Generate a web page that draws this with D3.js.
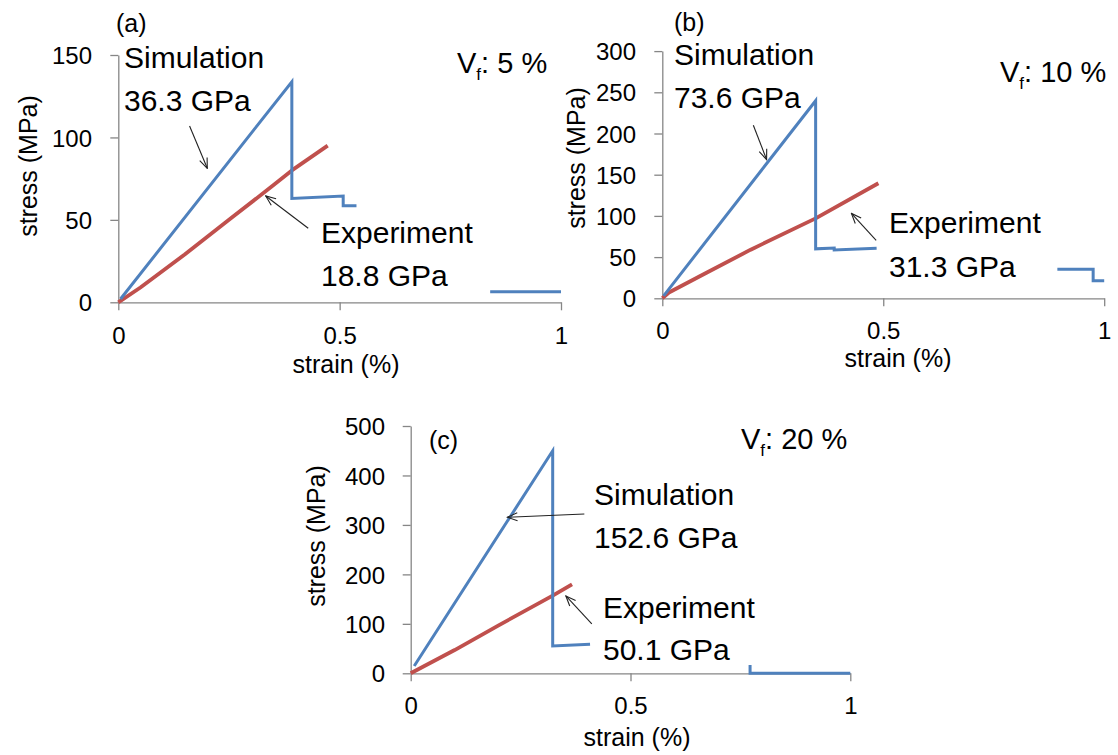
<!DOCTYPE html>
<html>
<head>
<meta charset="utf-8">
<script src="https://cdn.jsdelivr.net/npm/d3@7"></script>
<style>
  html, body { margin: 0; padding: 0; background: #fff; }
  svg { display: block; }
  text { font-family: "Liberation Sans", Arial, sans-serif; fill: #000; }
</style>
</head>
<body>
<svg id="chart" width="1118" height="755"></svg>
<script>
// ---- data: strain (%) vs stress (MPa); null splits a curve into pieces ----
const simStrainA = [0.005, 0.392, 0.392, 0.508, 0.508, 0.538, null, 0.84, 1.0];
const simStressA = [2, 133.8, 63, 64.5, 58.5, 58.5, null, 6.4, 6.4];
const expStrainA = [0, 0.05, 0.15, 0.25, 0.35, 0.392, 0.473];
const expStressA = [0, 9, 29, 50, 71, 80, 95];

const simStrainB = [0.003, 0.347, 0.347, 0.389, 0.389, 0.485, null, 0.894, 0.975, 0.975, 1.0];
const simStressB = [3, 239.8, 60, 61, 58.6, 60.7, null, 35.2, 35.2, 21.4, 21.4];
const expStrainB = [0, 0.015, 0.1, 0.2, 0.347, 0.489];
const expStressB = [0, 7, 31, 59, 97, 139.6];

const simStrainC = [0.008, 0.323, 0.323, 0.408, null, 0.772, 0.772, 1.0];
const simStressC = [14.8, 450, 55.2, 58.6, null, 17, 0, 0];
const expStrainC = [0, 0.1, 0.2, 0.323, 0.367];
const expStressC = [0, 47, 97, 157, 180];

const xTicks = [0, 0.5, 1];
const xTickLabels = ["0", "0.5", "1"];
const yTicksA = [0, 50, 100, 150];
const yTicksB = [0, 50, 100, 150, 200, 250, 300];
const yTicksC = [0, 100, 200, 300, 400, 500];

const panelTags = ["(a)", "(b)", "(c)"];
const vfValues = ["5 %", "10 %", "20 %"];
const simModulus = ["36.3 GPa", "73.6 GPa", "152.6 GPa"];
const expModulus = ["18.8 GPa", "31.3 GPa", "50.1 GPa"];

// annotation arrows in data units: [strain0, stress0, strain1, stress1]
const simArrows = [[0.161, 106.9, 0.201, 81.3], [0.206, 210, 0.236, 168.4], [0.395, 322, 0.220, 315.5]];
const expArrows = [[0.429, 44.9, 0.333, 64.5], [0.484, 70.4, 0.428, 103], [0.412, 99.7, 0.353, 156.3]];

// ---- layout ----
const panels = [
  { x0: 118.3, x1: 561, y0: 302.3, y1: 55, yMax: 150, yTicks: yTicksA,
    sx: simStrainA, sy: simStressA, ex: expStrainA, ey: expStressA,
    tag: [116, 32], vf: [457, 73], sim: [124, 68, 111], exp: [321, 243, 286],
    yTitle: [28, 166], xTitle: [346, 373], xLab: 344, yLabRight: 92 },
  { x0: 662.3, x1: 1104.2, y0: 298.3, y1: 51.1, yMax: 300, yTicks: yTicksB,
    sx: simStrainB, sy: simStressB, ex: expStrainB, ey: expStressB,
    tag: [674, 31], vf: [1000, 82], sim: [674, 65, 108], exp: [889, 233, 277],
    yTitle: [576, 158], xTitle: [898, 367], xLab: 339, yLabRight: 636 },
  { x0: 410.7, x1: 850.3, y0: 673.3, y1: 426, yMax: 500, yTicks: yTicksC,
    sx: simStrainC, sy: simStressC, ex: expStrainC, ey: expStressC,
    tag: [429, 449], vf: [741, 449], sim: [594, 505, 548], exp: [603, 618, 660],
    yTitle: [316, 536], xTitle: [637, 746], xLab: 714, yLabRight: 385 }
];

const blue = "#4F81BD", red = "#C0504D", axisGrey = "#868686";
const svg = d3.select("#chart");

const defs = svg.append("defs");
defs.append("marker")
  .attr("id", "arrowhead").attr("viewBox", "0 0 12 10")
  .attr("refX", 11).attr("refY", 5)
  .attr("markerWidth", 12).attr("markerHeight", 10)
  .attr("markerUnits", "userSpaceOnUse").attr("orient", "auto")
  .append("path").attr("d", "M1,1 L11,5 L1,9")
  .attr("fill", "none").attr("stroke", "#222").attr("stroke-width", 1.1);

panels.forEach((p, i) => {
  const x = d3.scaleLinear().domain([0, 1]).range([p.x0, p.x1]);
  const y = d3.scaleLinear().domain([0, p.yMax]).range([p.y0, p.y1]);
  const g = svg.append("g");

  // axes
  const xAxis = d3.axisBottom(x).tickValues(xTicks).tickFormat((d, k) => xTickLabels[k])
    .tickSizeInner(8).tickSizeOuter(0).tickPadding(6);
  const yAxis = d3.axisLeft(y).tickValues(p.yTicks).tickFormat(d3.format("d"))
    .tickSizeInner(8).tickSizeOuter(0).tickPadding(6);

  const gx = g.append("g").attr("transform", `translate(0,${p.y0})`).call(xAxis);
  const gy = g.append("g").attr("transform", `translate(${p.x0},0)`).call(yAxis);
  [gx, gy].forEach(a => {
    a.selectAll("path.domain").attr("stroke", axisGrey).attr("stroke-width", 1.3);
    a.selectAll(".tick line").attr("stroke", axisGrey).attr("stroke-width", 1.3);
    a.selectAll(".tick text").attr("font-size", 24)
      .attr("font-family", "'Liberation Sans', Arial, sans-serif").attr("fill", "#000");
  });
  gx.selectAll(".tick text").attr("dy", null).attr("y", p.xLab - p.y0);
  gy.selectAll(".tick text").attr("x", p.yLabRight - p.x0).attr("dy", "0.36em");

  // axis titles
  g.append("text").attr("x", p.xTitle[0]).attr("y", p.xTitle[1])
    .attr("text-anchor", "middle").attr("font-size", 25).text("strain (%)");
  g.append("text").attr("transform", `translate(${p.yTitle[0]},${p.yTitle[1]}) rotate(-90)`)
    .attr("text-anchor", "middle").attr("dy", "0.35em").attr("font-size", 25).text("stress (MPa)");

  // curves
  const line = d3.line().defined(d => d[0] !== null).x(d => x(d[0])).y(d => y(d[1]));
  const simPts = p.sx.map((v, k) => [v, p.sy[k]]);
  const expPts = p.ex.map((v, k) => [v, p.ey[k]]);
  g.append("path").datum(expPts).attr("d", line)
    .attr("fill", "none").attr("stroke", red).attr("stroke-width", 3.8)
    .attr("stroke-linejoin", "round");
  g.append("path").datum(simPts).attr("d", line)
    .attr("fill", "none").attr("stroke", blue).attr("stroke-width", 3)
    .attr("stroke-linejoin", "miter");

  // arrows
  [simArrows[i], expArrows[i]].forEach(a => {
    g.append("line").attr("x1", x(a[0])).attr("y1", y(a[1]))
      .attr("x2", x(a[2])).attr("y2", y(a[3]))
      .attr("stroke", "#222").attr("stroke-width", 1.1)
      .attr("marker-end", "url(#arrowhead)");
  });

  // labels
  g.append("text").attr("x", p.tag[0]).attr("y", p.tag[1]).attr("font-size", 25).text(panelTags[i]);
  const vf = g.append("text").attr("x", p.vf[0]).attr("y", p.vf[1]).attr("font-size", 29);
  vf.append("tspan").text("V");
  vf.append("tspan").attr("font-size", 17).attr("dy", 7).text("f");
  vf.append("tspan").attr("dy", -7).text(": " + vfValues[i]);

  g.append("text").attr("x", p.sim[0]).attr("y", p.sim[1]).attr("font-size", 30).text("Simulation");
  g.append("text").attr("x", p.sim[0]).attr("y", p.sim[2]).attr("font-size", 30).text(simModulus[i]);
  g.append("text").attr("x", p.exp[0]).attr("y", p.exp[1]).attr("font-size", 30).text("Experiment");
  g.append("text").attr("x", p.exp[0]).attr("y", p.exp[2]).attr("font-size", 30).text(expModulus[i]);
});
</script>
</body>
</html>
